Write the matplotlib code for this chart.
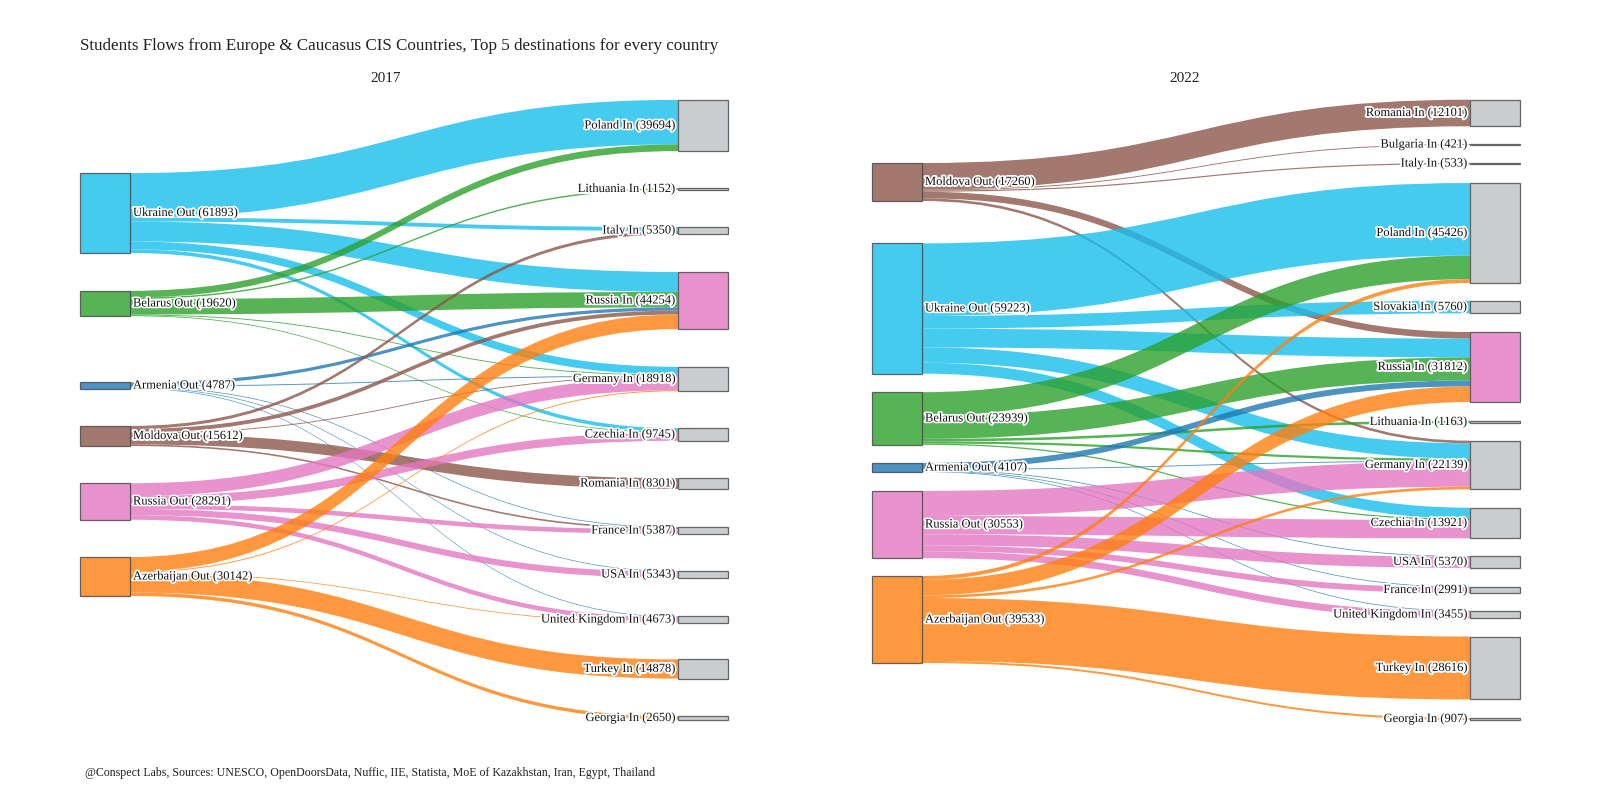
import matplotlib
matplotlib.use("Agg")
import matplotlib.pyplot as plt
import matplotlib.patheffects as pe
from matplotlib.path import Path
from matplotlib.patches import PathPatch, Rectangle

plt.rcParams["font.family"] = ["Liberation Serif", "DejaVu Serif"]

# ---- data -------------------------------------------------------------
sources_2017 = ["Ukraine", "Belarus", "Armenia", "Moldova", "Russia", "Azerbaijan"]
targets_2017 = ["Poland", "Lithuania", "Italy", "Russia", "Germany", "Czechia", "Romania",
                "France", "USA", "United Kingdom", "Turkey", "Georgia"]
link_src_2017 = ["Ukraine"] * 5 + ["Belarus"] * 5 + ["Armenia"] * 5 + ["Moldova"] * 5 \
    + ["Russia"] * 5 + ["Azerbaijan"] * 5
link_dst_2017 = ["Poland", "Italy", "Russia", "Germany", "Czechia",
                 "Poland", "Lithuania", "Russia", "Germany", "Czechia",
                 "Russia", "Germany", "France", "USA", "United Kingdom",
                 "Italy", "Russia", "Germany", "Romania", "France",
                 "Germany", "Czechia", "France", "USA", "United Kingdom",
                 "Russia", "Germany", "United Kingdom", "Turkey", "Georgia"]
link_val_2017 = [34500, 3000, 15500, 6093, 2800,
                 5194, 1152, 11974, 700, 600,
                 2500, 700, 550, 520, 517,
                 2350, 3000, 700, 8301, 1261,
                 9991, 6345, 3576, 4823, 3556,
                 11280, 734, 600, 14878, 2650]

sources_2022 = ["Moldova", "Ukraine", "Belarus", "Armenia", "Russia", "Azerbaijan"]
targets_2022 = ["Romania", "Bulgaria", "Italy", "Poland", "Slovakia", "Russia", "Lithuania",
                "Germany", "Czechia", "USA", "France", "United Kingdom", "Turkey", "Georgia"]
link_src_2022 = ["Moldova"] * 5 + ["Ukraine"] * 5 + ["Belarus"] * 5 + ["Armenia"] * 5 \
    + ["Russia"] * 5 + ["Azerbaijan"] * 5
link_dst_2022 = ["Romania", "Bulgaria", "Italy", "Russia", "Germany",
                 "Poland", "Slovakia", "Russia", "Germany", "Czechia",
                 "Poland", "Russia", "Lithuania", "Germany", "Czechia",
                 "Russia", "Germany", "USA", "France", "United Kingdom",
                 "Germany", "Czechia", "USA", "France", "United Kingdom",
                 "Poland", "Russia", "Germany", "Turkey", "Georgia"]
link_val_2022 = [12101, 421, 533, 3000, 1205,
                 33000, 5760, 8528, 6935, 5000,
                 10700, 10500, 1163, 1000, 576,
                 2700, 400, 350, 330, 327,
                 11399, 8345, 5020, 2661, 3128,
                 1726, 7084, 1200, 28616, 907]

# ---- layout (plotly-like node placement, figure pixels) ----------------
COLORS = {
    "Ukraine": "#17bfec",
    "Belarus": "#2ca02c",
    "Armenia": "#1f77b4",
    "Moldova": "#8c564b",
    "Russia": "#e377c2",
    "Azerbaijan": "#ff7f0e",
}
TARGET_GREY = "#bcc1c4"

PANELS = [
    dict(year="2017", src=sources_2017, dst=targets_2017,
         ls=link_src_2017, ld=link_dst_2017, lv=link_val_2017,
         x_src=80, x_dst=678, scale=0.00129, title_x=386,
         src_y=[213, 303.5, 385.5, 436, 501.5, 576.5],
         dst_y=[125.5, 189, 230.5, 300.5, 379, 434.5, 483.5, 530.5, 574.5, 619.5, 669, 718]),
    dict(year="2022", src=sources_2022, dst=targets_2022,
         ls=link_src_2022, ld=link_dst_2022, lv=link_val_2022,
         x_src=872, x_dst=1470, scale=0.0022, title_x=1185,
         src_y=[182, 308.5, 418.5, 467.5, 524.5, 619.5],
         dst_y=[113, 144.5, 163.5, 233, 307, 367, 422, 465, 523, 562, 590, 614.5, 668, 719]),
]
NODE_W = 50
LINK_ALPHA = 0.8
NODE_ALPHA = 0.8

halo = [pe.withStroke(linewidth=2.5, foreground="white")]


def link_patch(x0, y0a, y0b, x1, y1a, y1b, color):
    xm = (x0 + x1) / 2
    verts = [(x0, y0a), (xm, y0a), (xm, y1a), (x1, y1a),
             (x1, y1b), (xm, y1b), (xm, y0b), (x0, y0b), (x0, y0a)]
    codes = [Path.MOVETO, Path.CURVE4, Path.CURVE4, Path.CURVE4,
             Path.LINETO, Path.CURVE4, Path.CURVE4, Path.CURVE4, Path.CLOSEPOLY]
    return PathPatch(Path(verts, codes), facecolor=color, edgecolor="none",
                     alpha=LINK_ALPHA, lw=0)


def draw_panel(ax, p):
    sc = p["scale"]
    src_tot = {s: 0 for s in p["src"]}
    dst_tot = {d: 0 for d in p["dst"]}
    for s, d, v in zip(p["ls"], p["ld"], p["lv"]):
        src_tot[s] += v
        dst_tot[d] += v
    src_cy = dict(zip(p["src"], p["src_y"]))
    dst_cy = dict(zip(p["dst"], p["dst_y"]))
    src_top = {s: src_cy[s] - src_tot[s] * sc / 2 for s in p["src"]}
    dst_top = {d: dst_cy[d] - dst_tot[d] * sc / 2 for d in p["dst"]}

    idx = range(len(p["lv"]))
    # stacking order at each end, like plotly: by the y of the other end
    off_src, off_dst = {}, {}
    for s in p["src"]:
        run = src_top[s]
        for i in sorted([i for i in idx if p["ls"][i] == s], key=lambda i: dst_cy[p["ld"][i]]):
            off_src[i] = run
            run += p["lv"][i] * sc
    for d in p["dst"]:
        run = dst_top[d]
        for i in sorted([i for i in idx if p["ld"][i] == d], key=lambda i: src_cy[p["ls"][i]]):
            off_dst[i] = run
            run += p["lv"][i] * sc

    x0 = p["x_src"] + NODE_W
    x1 = p["x_dst"]
    for i in idx:
        h = p["lv"][i] * sc
        ax.add_patch(link_patch(x0, off_src[i], off_src[i] + h,
                                x1, off_dst[i], off_dst[i] + h, COLORS[p["ls"][i]]))

    for s in p["src"]:
        h = src_tot[s] * sc
        ax.add_patch(Rectangle((p["x_src"], src_top[s]), NODE_W, h, facecolor=COLORS[s],
                               alpha=NODE_ALPHA, edgecolor="#444444", lw=0.9))
        ax.text(p["x_src"] + NODE_W + 3, src_cy[s], f"{s} Out ({src_tot[s]})", fontsize=9,
                ha="left", va="center", color="#111111", path_effects=halo)
    for d in p["dst"]:
        h = max(dst_tot[d] * sc, 1.0)
        fc = COLORS["Russia"] if d == "Russia" else TARGET_GREY
        ax.add_patch(Rectangle((p["x_dst"], dst_cy[d] - h / 2), NODE_W, h, facecolor=fc,
                               alpha=NODE_ALPHA, edgecolor="#444444", lw=0.9))
        ax.text(p["x_dst"] - 3, dst_cy[d], f"{d} In ({dst_tot[d]})", fontsize=9,
                ha="right", va="center", color="#111111", path_effects=halo)

    ax.text(p["title_x"], 79, p["year"], fontsize=11, ha="center", va="center", color="#222222")


fig = plt.figure(figsize=(16, 8), dpi=100)
ax = fig.add_axes([0, 0, 1, 1])
ax.set_xlim(0, 1600)
ax.set_ylim(800, 0)
ax.axis("off")

for panel in PANELS:
    draw_panel(ax, panel)

ax.text(80, 46, "Students Flows from Europe & Caucasus CIS Countries, Top 5 destinations for every country",
        fontsize=12.25, ha="left", va="center", color="#222222")
ax.text(85, 773, "@Conspect Labs, Sources: UNESCO, OpenDoorsData, Nuffic, IIE, Statista, "
        "MoE of Kazakhstan, Iran, Egypt, Thailand", fontsize=8.6, ha="left", va="center", color="#222222")

fig.savefig("out.png", dpi=100)
